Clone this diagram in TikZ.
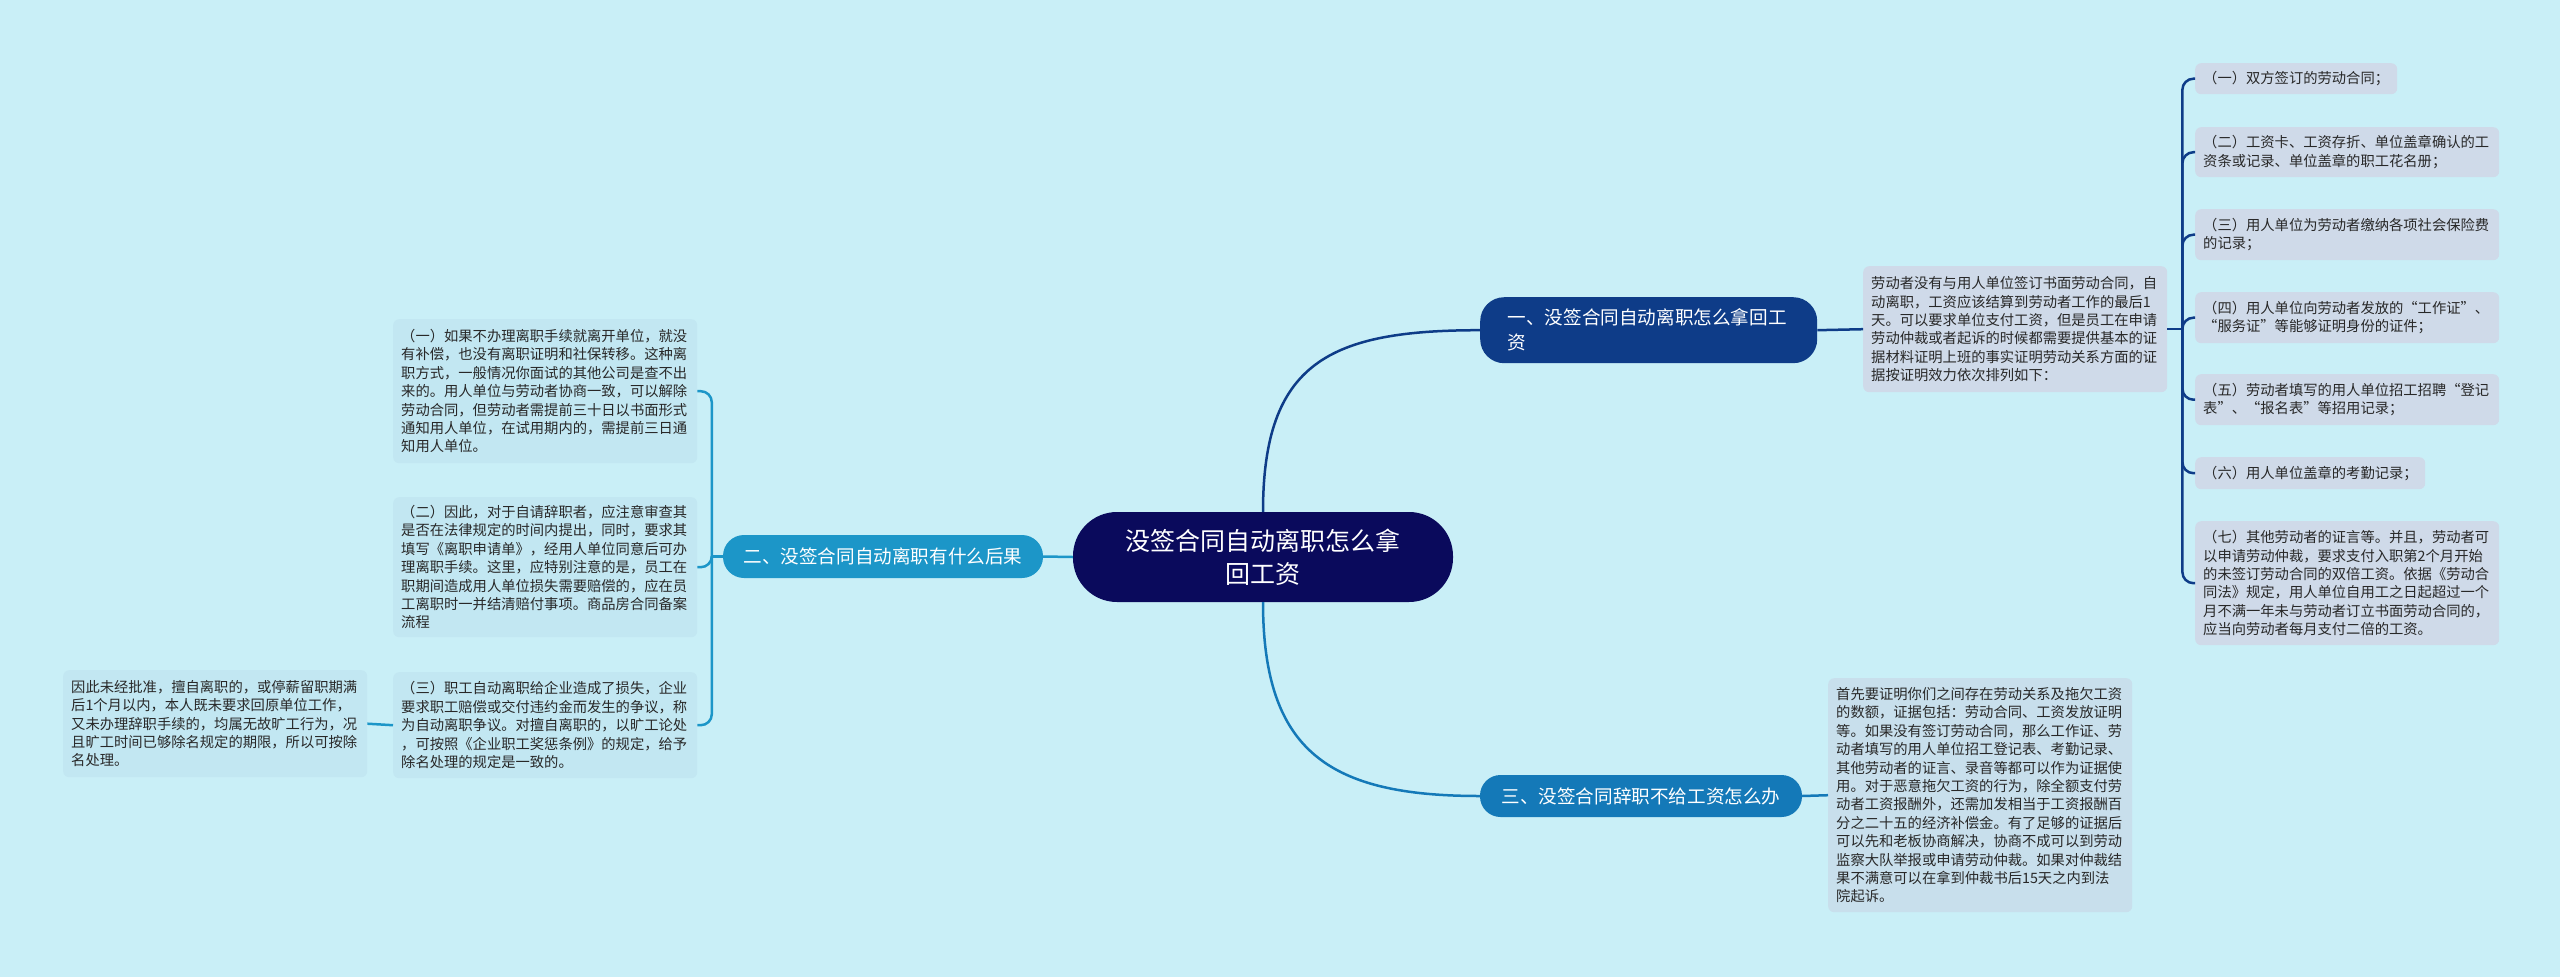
\documentclass[tikz,border=0pt]{standalone}
\usepackage{fontspec}
\newfontfamily\cjk{Noto Sans CJK SC}
\definecolor{bgc}{RGB}{201,239,247}
\definecolor{rootc}{RGB}{10,10,92}
\definecolor{bonec}{RGB}{14,60,136}
\definecolor{btwoc}{RGB}{28,150,200}
\definecolor{bthreec}{RGB}{20,121,184}
\definecolor{leafone}{RGB}{207,218,233}
\definecolor{leaftwo}{RGB}{194,231,242}
\definecolor{leafthree}{RGB}{200,223,236}
\definecolor{textc}{RGB}{40,40,40}
\begin{document}
\begin{tikzpicture}[x=1pt,y=-1pt,
  leaf/.style={anchor=north west, rounded corners=6pt, inner xsep=8pt, inner ysep=0pt,
    text width=288pt, align=left, text=textc, font=\cjk\fontsize{14.3}{18.4}\selectfont},
  branch/.style={text=white, inner sep=0pt, align=left, font=\cjk\fontsize{18.6}{25}\selectfont},
  conn/.style={line width=2.5pt},
]
\useasboundingbox[fill=bgc] (0,0) rectangle (2560,977);

% root
\node[fill=rootc, text=white, minimum width=380pt, minimum height=90pt, rounded corners=44pt,
  inner sep=0pt, align=center, font=\cjk\fontsize{25}{33}\selectfont] (root) at (1263,557)
  {没签合同自动离职怎么拿\\回工资};

% branches
\node[branch, fill=bonec, anchor=north west, minimum width=337pt, minimum height=66pt,
  rounded corners=24pt, text width=282pt] (b1) at (1480,297)
  {一、没签合同自动离职怎么拿回工\\资};
\node[branch, fill=btwoc, minimum width=320pt, minimum height=43pt, rounded corners=21pt] (b2) at (883,556.5)
  {二、没签合同自动离职有什么后果};
\node[branch, fill=bthreec, minimum width=322pt, minimum height=42pt, rounded corners=20.5pt] (b3) at (1641,796)
  {三、没签合同辞职不给工资怎么办};

% branch 1 leaves
\node[leaf, fill=leafone, minimum height=126pt] (d1) at (1863,266)
  {劳动者没有与用人单位签订书面劳动合同，自\\
动离职，工资应该结算到劳动者工作的最后1\\
天。可以要求单位支付工资，但是员工在申请\\
劳动仲裁或者起诉的时候都需要提供基本的证\\
据材料证明上班的事实证明劳动关系方面的证\\
据按证明效力依次排列如下：};
\node[leaf, fill=leafone, minimum height=31pt, text width=186pt] (i1) at (2195,63)
  {（一）双方签订的劳动合同；};
\node[leaf, fill=leafone, minimum height=50pt] (i2) at (2195,127)
  {（二）工资卡、工资存折、单位盖章确认的工\\
资条或记录、单位盖章的职工花名册；};
\node[leaf, fill=leafone, minimum height=51pt] (i3) at (2195,209)
  {（三）用人单位为劳动者缴纳各项社会保险费\\
的记录；};
\node[leaf, fill=leafone, minimum height=51pt] (i4) at (2195,292)
  {（四）用人单位向劳动者发放的“工作证”、\\
“服务证”等能够证明身份的证件；};
\node[leaf, fill=leafone, minimum height=51pt] (i5) at (2195,374)
  {（五）劳动者填写的用人单位招工招聘“登记\\
表”、“报名表”等招用记录；};
\node[leaf, fill=leafone, minimum height=32pt, text width=214pt] (i6) at (2195,457)
  {（六）用人单位盖章的考勤记录；};
\node[leaf, fill=leafone, minimum height=124pt] (i7) at (2195,521)
  {（七）其他劳动者的证言等。并且，劳动者可\\
以申请劳动仲裁，要求支付入职第2个月开始\\
的未签订劳动合同的双倍工资。依据《劳动合\\
同法》规定，用人单位自用工之日起超过一个\\
月不满一年未与劳动者订立书面劳动合同的，\\
应当向劳动者每月支付二倍的工资。};

% branch 3 leaf
\node[leaf, fill=leafthree, minimum height=234pt] (c1) at (1828,678)
  {首先要证明你们之间存在劳动关系及拖欠工资\\
的数额，证据包括：劳动合同、工资发放证明\\
等。如果没有签订劳动合同，那么工作证、劳\\
动者填写的用人单位招工登记表、考勤记录、\\
其他劳动者的证言、录音等都可以作为证据使\\
用。对于恶意拖欠工资的行为，除全额支付劳\\
动者工资报酬外，还需加发相当于工资报酬百\\
分之二十五的经济补偿金。有了足够的证据后\\
可以先和老板协商解决，协商不成可以到劳动\\
监察大队举报或申请劳动仲裁。如果对仲裁结\\
果不满意可以在拿到仲裁书后15天之内到法\\
院起诉。};

% branch 2 leaves
\node[leaf, fill=leaftwo, minimum height=144pt] (la) at (393,319)
  {（一）如果不办理离职手续就离开单位，就没\\
有补偿，也没有离职证明和社保转移。这种离\\
职方式，一般情况你面试的其他公司是查不出\\
来的。用人单位与劳动者协商一致，可以解除\\
劳动合同，但劳动者需提前三十日以书面形式\\
通知用人单位，在试用期内的，需提前三日通\\
知用人单位。};
\node[leaf, fill=leaftwo, minimum height=140pt] (lb) at (393,497)
  {（二）因此，对于自请辞职者，应注意审查其\\
是否在法律规定的时间内提出，同时，要求其\\
填写《离职申请单》，经用人单位同意后可办\\
理离职手续。这里，应特别注意的是，员工在\\
职期间造成用人单位损失需要赔偿的，应在员\\
工离职时一并结清赔付事项。商品房合同备案\\
流程};
\node[leaf, fill=leaftwo, minimum height=106pt] (lc) at (393,672)
  {（三）职工自动离职给企业造成了损失，企业\\
要求职工赔偿或交付违约金而发生的争议，称\\
为自动离职争议。对擅自离职的，以旷工论处\\
，可按照《企业职工奖惩条例》的规定，给予\\
除名处理的规定是一致的。};
\node[leaf, fill=leaftwo, minimum height=107pt] (ld) at (63,670)
  {因此未经批准，擅自离职的，或停薪留职期满\\
后1个月以内，本人既未要求回原单位工作，\\
又未办理辞职手续的，均属无故旷工行为，况\\
且旷工时间已够除名规定的期限，所以可按除\\
名处理。};

% root connectors
\draw[conn, bonec] (root.north) .. controls +(0,-150) and +(-150,0) .. (b1.west);
\draw[conn, btwoc] (root.west) -- (b2.east);
\draw[conn, bthreec] (root.south) .. controls +(0,150) and +(-150,0) .. (b3.west);

% branch 1 connectors
\draw[conn, bonec] (b1.east) -- (d1.west);
\path (d1.east) ++(15,0) coordinate (jr);
\draw[conn, bonec] (d1.east) -- (jr);
\foreach \n in {i1,i2,i3,i4,i5,i6,i7}
  \draw[conn, bonec, rounded corners=11pt] (jr) |- (\n.west);

% branch 2 connectors
\path (b2.west) ++(-11,0) coordinate (jl);
\draw[conn, btwoc] (b2.west) -- (jl);
\foreach \n in {la,lb,lc}
  \draw[conn, btwoc, rounded corners=11pt] (jl) |- (\n.east);
\draw[conn, btwoc] (lc.west) -- (ld.east);

% branch 3 connector
\draw[conn, bthreec] (b3.east) -- (c1.west);
\end{tikzpicture}
\end{document}
